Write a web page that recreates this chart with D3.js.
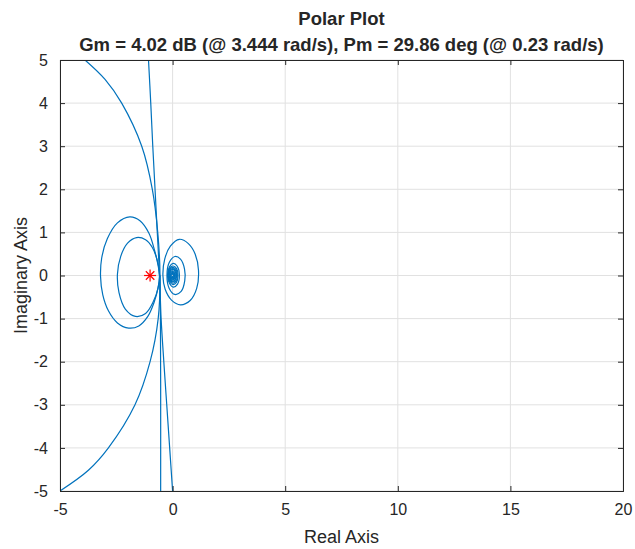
<!DOCTYPE html>
<html>
  <head>
    <meta charset="utf-8">
    <title>Polar Plot</title>
    <script src="https://d3js.org/d3.v7.min.js"></script>
    <style>
      body { margin: 0; background: #fff; }
      text { font-family: "Liberation Sans", Arial, sans-serif; fill: #262626; }
    </style>
  </head>
  <body>
<script>

// tick values
var xTicks = [-5, 0, 5, 10, 15, 20];
var yTicks = [-5, -4, -3, -2, -1, 0, 1, 2, 3, 4, 5];

// big arc, [re, im]
var bigArc = [[-3.89, 5], [-3.0, 4.55], [-2.26, 4], [-1.37, 3], [-0.9, 2], [-0.66, 1],
              [-0.56, 0], [-0.64, -1], [-1.0, -2], [-1.67, -3], [-2.85, -4], [-3.74, -4.52], [-5, -5]];

// near vertical branch going from top to bottom
var slantLine = [[-1.07, 5], [-0.97, 4], [-0.88, 3], [-0.78, 2], [-0.68, 1], [-0.58, 0],
                 [-0.51, -1], [-0.39, -2], [-0.26, -3], [-0.13, -4], [0, -5]];

// straight vertical branch
var vertLine = [[-0.56, 0], [-0.54, -1], [-0.53, -2.5], [-0.53, -5]];

// loops left of the critical point
var leftOuter = [[-0.58, 0], [-0.65, 0.25], [-0.8, 0.58], [-1.05, 0.98], [-1.45, 1.27], [-1.9, 1.36],
                 [-2.45, 1.22], [-2.9, 0.85], [-3.15, 0.4], [-3.2, -0.02], [-3.1, -0.45], [-2.85, -0.82],
                 [-2.45, -1.1], [-1.95, -1.22], [-1.5, -1.17], [-1.1, -0.95], [-0.82, -0.62], [-0.65, -0.3]];
var leftInner = [[-0.58, 0], [-0.68, 0.35], [-0.9, 0.65], [-1.2, 0.83], [-1.6, 0.88], [-2.0, 0.75],
                 [-2.3, 0.45], [-2.45, 0.03], [-2.38, -0.4], [-2.1, -0.78], [-1.65, -0.95], [-1.2, -0.88],
                 [-0.85, -0.6], [-0.65, -0.3]];

// loops around the origin
var rightLoop1 = [[-0.43, 0], [-0.35, 0.38], [-0.1, 0.68], [0.3, 0.84], [0.7, 0.74], [1.0, 0.5],
                  [1.15, 0.12], [1.07, -0.3], [0.78, -0.58], [0.35, -0.68], [-0.05, -0.57], [-0.33, -0.32]];
var rightLoop2 = [[-0.25, 0], [-0.15, 0.3], [0.1, 0.44], [0.35, 0.38], [0.53, 0.15], [0.54, -0.12],
                  [0.38, -0.37], [0.1, -0.44], [-0.15, -0.3]];
var rightLoop3 = [[-0.22, 0], [-0.14, 0.2], [0.03, 0.28], [0.2, 0.22], [0.3, 0.02], [0.22, -0.2],
                  [0.03, -0.27], [-0.14, -0.18]];
var rightLoop4 = [[-0.21, 0], [-0.13, 0.17], [0.02, 0.22], [0.18, 0.16], [0.24, 0], [0.17, -0.16],
                  [0.02, -0.21], [-0.13, -0.15]];
var rightLoop5 = [[-0.2, 0], [-0.12, 0.15], [0.02, 0.19], [0.16, 0.13], [0.21, 0], [0.15, -0.13],
                  [0.02, -0.18], [-0.12, -0.13]];
var rightLoop6 = [[-0.19, 0], [-0.11, 0.13], [0.02, 0.16], [0.14, 0.11], [0.18, 0], [0.12, -0.11],
                  [0.02, -0.15], [-0.11, -0.11]];
var rightLoop7 = [[-0.17, 0], [-0.1, 0.11], [0.02, 0.14], [0.12, 0.09], [0.15, 0], [0.1, -0.1],
                  [0.01, -0.13], [-0.1, -0.09]];
var rightLoop8 = [[-0.16, 0], [-0.09, 0.09], [0.01, 0.11], [0.1, 0.07], [0.12, 0], [0.08, -0.08],
                  [0.01, -0.1], [-0.09, -0.07]];
var rightLoop9 = [[-0.14, 0], [-0.08, 0.07], [0.01, 0.09], [0.08, 0.05], [0.1, 0], [0.06, -0.06],
                  [0, -0.08], [-0.08, -0.06]];
var rightLoop10 = [[-0.12, 0], [-0.06, 0.05], [0.01, 0.07], [0.06, 0.04], [0.08, 0], [0.05, -0.05],
                   [0, -0.06], [-0.06, -0.05]];
var rightLoop11 = [[-0.1, 0], [-0.05, 0.04], [0.01, 0.05], [0.05, 0.03], [0.06, 0], [0.04, -0.04],
                   [0, -0.05], [-0.05, -0.04]];
var rightLoop12 = [[-0.07, 0], [-0.03, 0.025], [0.01, 0.03], [0.03, 0.02], [0.04, 0], [0.02, -0.02],
                   [0, -0.03], [-0.03, -0.02]];

// critical point
var critical = [[-1, 0]];

var openCurves = [bigArc, slantLine, vertLine];
var loops = [leftOuter, leftInner, rightLoop1, rightLoop2, rightLoop3, rightLoop4, rightLoop5,
             rightLoop6, rightLoop7, rightLoop8, rightLoop9, rightLoop10, rightLoop11, rightLoop12];

var margin = {top: 60, right: 12, bottom: 58, left: 60},
    width = 635 - margin.left - margin.right,
    height = 549 - margin.top - margin.bottom;

var svg = d3.select("body")
    .append("svg")
    .attr("width", 635)
    .attr("height", 549);

var g = svg.append("g")
    .attr("transform", "translate(" + margin.left + "," + margin.top + ")");

var x = d3.scaleLinear().domain([-5, 20]).range([0, width]);
var y = d3.scaleLinear().domain([-5, 5]).range([height, 0]);

// grid
g.selectAll(".gx").data(xTicks).enter().append("line")
    .attr("x1", function(d) { return x(d); }).attr("x2", function(d) { return x(d); })
    .attr("y1", 0).attr("y2", height)
    .attr("stroke", "#e1e1e1").attr("stroke-width", 1);
g.selectAll(".gy").data(yTicks).enter().append("line")
    .attr("y1", function(d) { return y(d); }).attr("y2", function(d) { return y(d); })
    .attr("x1", 0).attr("x2", width)
    .attr("stroke", "#e1e1e1").attr("stroke-width", 1);

// clip to the axes box
svg.append("defs").append("clipPath").attr("id", "clip")
  .append("rect").attr("width", width).attr("height", height);

var plot = g.append("g").attr("clip-path", "url(#clip)");

var line = d3.line()
    .x(function(d) { return x(d[0]); })
    .y(function(d) { return y(d[1]); })
    .curve(d3.curveCatmullRom);

var loopLine = d3.line()
    .x(function(d) { return x(d[0]); })
    .y(function(d) { return y(d[1]); })
    .curve(d3.curveCatmullRomClosed);

plot.selectAll(".curve").data(openCurves).enter().append("path")
    .attr("d", line)
    .attr("fill", "none").attr("stroke", "#0072bd").attr("stroke-width", 1.2);

plot.selectAll(".loop").data(loops).enter().append("path")
    .attr("d", loopLine)
    .attr("fill", "none").attr("stroke", "#0072bd").attr("stroke-width", 1.2);

// red star marker
var star = plot.selectAll(".star").data(critical).enter().append("g")
    .attr("transform", function(d) { return "translate(" + x(d[0]) + "," + y(d[1]) + ")"; });
[0, 45, 90, 135].forEach(function(a) {
  star.append("line")
    .attr("x1", -6).attr("x2", 6).attr("y1", 0).attr("y2", 0)
    .attr("transform", "rotate(" + a + ")")
    .attr("stroke", "#ff0000").attr("stroke-width", 1.2);
});

// axes, ticks inward on all four sides
var tickLen = 5;
var fmt = function(d) { return String(d); };
g.append("g").attr("transform", "translate(0," + height + ")")
  .call(d3.axisBottom(x).tickValues(xTicks).tickSize(-tickLen).tickPadding(13).tickFormat(fmt));
g.append("g")
  .call(d3.axisTop(x).tickValues(xTicks).tickSize(-tickLen).tickFormat(""));
g.append("g")
  .call(d3.axisLeft(y).tickValues(yTicks).tickSize(-tickLen).tickPadding(12).tickFormat(fmt));
g.append("g").attr("transform", "translate(" + width + ",0)")
  .call(d3.axisRight(y).tickValues(yTicks).tickSize(-tickLen).tickFormat(""));

g.selectAll(".domain").attr("stroke", "#262626");
g.selectAll(".tick line").attr("stroke", "#262626");
g.selectAll(".tick text")
  .style("font-family", "'Liberation Sans', Arial, sans-serif")
  .style("font-size", "16px")
  .attr("fill", "#262626");

// labels
svg.append("text")
  .attr("x", margin.left + width / 2).attr("y", 543)
  .attr("text-anchor", "middle")
  .style("font-size", "18px")
  .text("Real Axis");

svg.append("text")
  .attr("transform", "translate(27," + (margin.top + height / 2) + ") rotate(-90)")
  .attr("text-anchor", "middle")
  .style("font-size", "18px")
  .text("Imaginary Axis");

// title
svg.append("text")
  .attr("x", margin.left + width / 2).attr("y", 25)
  .attr("text-anchor", "middle")
  .style("font-size", "18.5px").style("font-weight", "bold")
  .text("Polar Plot");
svg.append("text")
  .attr("x", margin.left + width / 2).attr("y", 51)
  .attr("text-anchor", "middle")
  .style("font-size", "18.5px").style("font-weight", "bold")
  .text("Gm = 4.02 dB (@ 3.444 rad/s), Pm = 29.86 deg (@ 0.23 rad/s)");

</script>
  </body>
</html>
